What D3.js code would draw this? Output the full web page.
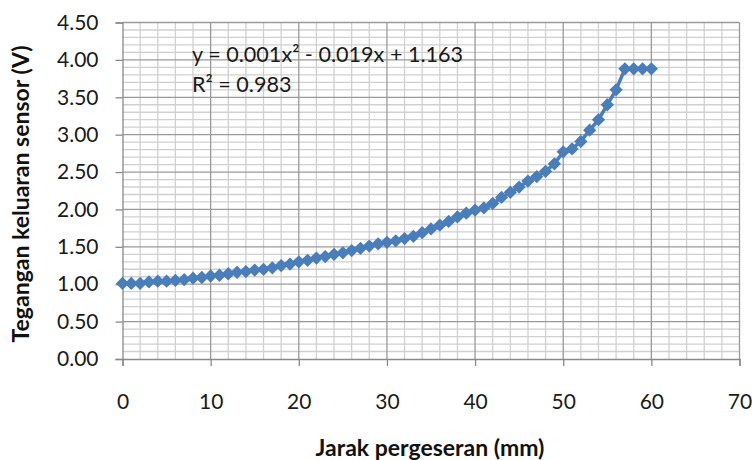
<!DOCTYPE html>
<html>
<head>
<meta charset="utf-8">
<script src="https://cdn.jsdelivr.net/npm/d3@7"></script>
<style>
  body { margin: 0; background: #fff; }
  text { font-family: Lato, "Liberation Sans", Arial, sans-serif; }
</style>
</head>
<body>
<div id="chart-area"></div>
<script>
// jarak pergeseran (mm) vs tegangan keluaran sensor (V)
let jarak = d3.range(0, 61);
let tegangan = [
  1.01, 1.01, 1.01, 1.03, 1.04, 1.04, 1.05, 1.06, 1.08, 1.09,
  1.11, 1.12, 1.14, 1.16, 1.17, 1.19, 1.20, 1.22, 1.25, 1.27,
  1.30, 1.32, 1.35, 1.37, 1.40, 1.42, 1.45, 1.48, 1.51, 1.54,
  1.56, 1.58, 1.61, 1.64, 1.69, 1.74, 1.79, 1.84, 1.90, 1.95,
  1.99, 2.02, 2.08, 2.16, 2.23, 2.30, 2.38, 2.44, 2.51, 2.61,
  2.77, 2.81, 2.91, 3.06, 3.20, 3.40, 3.60, 3.88, 3.88, 3.88,
  3.88
];
let xTicks = [0, 10, 20, 30, 40, 50, 60, 70];
let yTicks = [0, 0.5, 1, 1.5, 2, 2.5, 3, 3.5, 4, 4.5];
let eqLine1 = 'y = 0.001x² - 0.019x + 1.163';
let eqLine2 = 'R² = 0.983';

let margin = { left: 122.5, right: 12.5, top: 22.5, bottom: 101 };
let width = 752 - margin.left - margin.right;
let height = 460 - margin.top - margin.bottom;

let svg = d3.select('#chart-area').append('svg')
  .attr('width', 752)
  .attr('height', 460);

svg.append('rect').attr('width', 752).attr('height', 460).attr('fill', '#fff');

let g = svg.append('g')
  .attr('transform', `translate(${margin.left}, ${margin.top})`);

let x = d3.scaleLinear().domain([0, 70]).range([0, width]);
let y = d3.scaleLinear().domain([0, 4.5]).range([height, 0]);

// minor grid
g.append('g').selectAll('line')
  .data(d3.range(0, 70.01, 2).filter(d => d % 10 !== 0))
  .enter().append('line')
  .attr('x1', d => x(d)).attr('x2', d => x(d))
  .attr('y1', 0).attr('y2', height)
  .attr('stroke', '#d0d0d0').attr('stroke-width', 1.3);

g.append('g').selectAll('line')
  .data(d3.range(0, 46).map(d => d / 10).filter((d, i) => i % 5 !== 0))
  .enter().append('line')
  .attr('x1', 0).attr('x2', width)
  .attr('y1', d => y(d)).attr('y2', d => y(d))
  .attr('stroke', '#d0d0d0').attr('stroke-width', 1.3);

// major grid
g.append('g').selectAll('line')
  .data(xTicks.slice(1))
  .enter().append('line')
  .attr('x1', d => x(d)).attr('x2', d => x(d))
  .attr('y1', 0).attr('y2', height)
  .attr('stroke', '#9a9a9a').attr('stroke-width', 1.3);

g.append('g').selectAll('line')
  .data(yTicks.slice(1))
  .enter().append('line')
  .attr('x1', 0).attr('x2', width)
  .attr('y1', d => y(d)).attr('y2', d => y(d))
  .attr('stroke', '#9a9a9a').attr('stroke-width', 1.3);

// axes
let leftAxis = d3.axisLeft(y)
  .tickValues(yTicks)
  .tickSize(7)
  .tickPadding(17)
  .tickFormat(d3.format('.2f'));
let ya = g.append('g').attr('class', 'left-axis').call(leftAxis);

let bottomAxis = d3.axisBottom(x)
  .tickValues(xTicks)
  .tickSize(7)
  .tickPadding(28);
let xa = g.append('g').attr('class', 'bottom-axis')
  .attr('transform', `translate(0, ${height})`)
  .call(bottomAxis);

[ya, xa].forEach(a => {
  a.select('.domain').attr('stroke', '#8a8a8a').attr('stroke-width', 1.3);
  a.selectAll('.tick line').attr('stroke', '#8a8a8a').attr('stroke-width', 1.3);
  a.selectAll('text')
    .attr('font-size', 21)
    .attr('fill', '#1a1a1a')
    .style('font-family', 'Lato, "Liberation Sans", Arial, sans-serif');
});

// series
let pts = jarak.map((d, i) => ({ x: d, y: tegangan[i] }));

g.append('path')
  .datum(pts)
  .attr('fill', 'none')
  .attr('stroke', '#4a7ebb')
  .attr('stroke-width', 3.5)
  .attr('d', d3.line().x(d => x(d.x)).y(d => y(d.y)));

g.selectAll('.pt')
  .data(pts)
  .enter().append('path')
  .attr('class', 'pt')
  .attr('transform', d => `translate(${x(d.x)}, ${y(d.y)}) rotate(45)`)
  .attr('d', d3.symbol().type(d3.symbolSquare).size(88))
  .attr('fill', '#4a7ebb');

// trendline equation
g.append('text')
  .attr('x', 192 - margin.left).attr('y', 62 - margin.top)
  .attr('font-size', 21.6).attr('fill', '#1a1a1a')
  .text(eqLine1);
g.append('text')
  .attr('x', 192 - margin.left).attr('y', 92 - margin.top)
  .attr('font-size', 21.6).attr('fill', '#1a1a1a')
  .text(eqLine2);

// axis titles
svg.append('text')
  .attr('transform', 'translate(29, 194) rotate(-90)')
  .attr('text-anchor', 'middle')
  .attr('font-size', 23).attr('font-weight', 'bold').attr('fill', '#111')
  .text('Tegangan keluaran sensor (V)');

svg.append('text')
  .attr('x', 430).attr('y', 456)
  .attr('text-anchor', 'middle')
  .attr('font-size', 23).attr('font-weight', 'bold').attr('fill', '#111')
  .text('Jarak pergeseran (mm)');
</script>
</body>
</html>
